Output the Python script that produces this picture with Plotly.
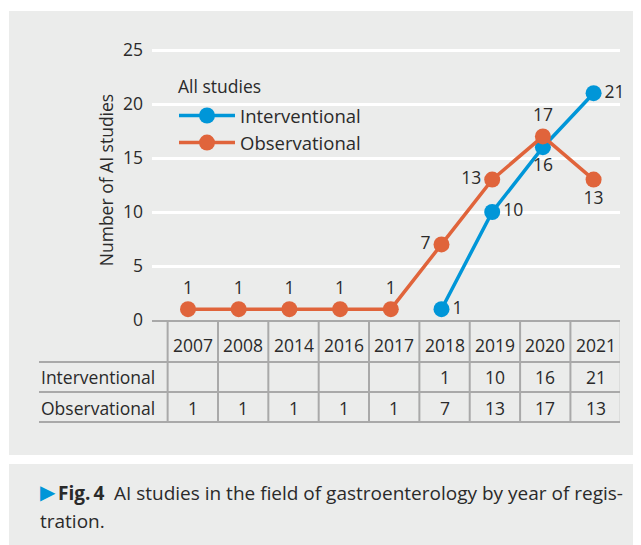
import plotly.graph_objects as go

years = ["2007", "2008", "2014", "2016", "2017", "2018", "2019", "2020", "2021"]
interventional = [None, None, None, None, None, 1, 10, 16, 21]
observational = [1, 1, 1, 1, 1, 7, 13, 17, 13]
y_ticks = [0, 5, 10, 15, 20, 25]
row_labels = ["Interventional", "Observational"]

BLUE = "#0096d8"
ORANGE = "#e0643b"
GRAY_BG = "#ebeceb"
TXT = "#2a2a2a"
LINE = "#a9a9a9"
FONT = "Open Sans, Liberation Sans, sans-serif"
FS = 17.5

OFF = 8                      # page body margin in the browser
W, H = 641 - OFF, 545 - OFF
# screen-pixel layout of the plot area
SL, SR, ST, SB = 152, 620, 40, 320
L, R, T, B = SL - OFF, SR - OFF, ST - OFF, SB - OFF


def px_x(px):
    return (px - SL) / (SR - SL)


def px_y(py):
    return (SB - py) / (SB - ST)


xi = list(range(len(years)))

obs_pos = ["top center"] * 5 + ["middle left", "middle left", "top center", "bottom center"]
int_pos = ["middle right"] * 7 + ["bottom center", "middle right"]

fig = go.Figure()
fig.add_trace(go.Scatter(
    x=xi, y=interventional, name="Interventional", mode="lines+markers+text",
    line=dict(color=BLUE, width=3.5), marker=dict(color=BLUE, size=16),
    text=[("" if v is None else str(v)) for v in interventional],
    textposition=int_pos, textfont=dict(size=FS, color=TXT, family=FONT),
    cliponaxis=False, hoverinfo="skip",
))
fig.add_trace(go.Scatter(
    x=xi, y=observational, name="Observational", mode="lines+markers+text",
    line=dict(color=ORANGE, width=3.5), marker=dict(color=ORANGE, size=16),
    text=[str(v) for v in observational],
    textposition=obs_pos, textfont=dict(size=FS, color=TXT, family=FONT),
    cliponaxis=False, hoverinfo="skip",
))

shapes = []
# background panels
shapes.append(dict(type="rect", xref="paper", yref="paper", layer="below",
                   x0=px_x(9), x1=px_x(660), y0=px_y(455), y1=px_y(11),
                   fillcolor=GRAY_BG, line=dict(width=0)))
shapes.append(dict(type="rect", xref="paper", yref="paper", layer="below",
                   x0=px_x(9), x1=px_x(660), y0=px_y(560), y1=px_y(464),
                   fillcolor=GRAY_BG, line=dict(width=0)))

# table lines
row_bottoms = [362, 392, 422]
for yb in row_bottoms:
    shapes.append(dict(type="line", xref="paper", yref="paper",
                       x0=px_x(39), x1=1, y0=px_y(yb), y1=px_y(yb),
                       line=dict(color=LINE, width=2)))
for k in range(len(years) + 1):
    shapes.append(dict(type="line", xref="x2", yref="paper",
                       x0=k - 0.5, x1=k - 0.5, y0=px_y(SB), y1=px_y(422),
                       line=dict(color=LINE, width=2)))

annotations = []
row_centers = [377, 408]
for i, yr in enumerate(years):
    annotations.append(dict(x=i, y=px_y(345), xref="x2", yref="paper", text=yr,
                            showarrow=False, xanchor="center", yanchor="middle",
                            font=dict(size=FS, color=TXT, family=FONT)))
    for r, series in enumerate([interventional, observational]):
        v = series[i]
        if v is not None:
            annotations.append(dict(x=i, y=px_y(row_centers[r]), xref="x2", yref="paper",
                                    text=str(v), showarrow=False,
                                    xanchor="center", yanchor="middle",
                                    font=dict(size=FS, color=TXT, family=FONT)))
for r, lab in enumerate(row_labels):
    annotations.append(dict(x=px_x(39), y=px_y(row_centers[r]), xref="paper", yref="paper",
                            text=lab, showarrow=False, xanchor="left", yanchor="middle",
                            font=dict(size=FS, color=TXT, family=FONT)))

# legend title
annotations.append(dict(x=px_x(176), y=px_y(86), xref="paper", yref="paper",
                        text="All studies", showarrow=False, xanchor="left", yanchor="middle",
                        font=dict(size=FS, color=TXT, family=FONT)))

# caption
CFS = 19
annotations.append(dict(
    x=px_x(38), y=px_y(492), xref="paper", yref="paper", xanchor="left", yanchor="middle",
    showarrow=False, align="left", text="\u25B6",
    font=dict(size=20, color=BLUE, family="DejaVu Sans")))
annotations.append(dict(
    x=px_x(56), y=px_y(493), xref="paper", yref="paper", xanchor="left", yanchor="middle",
    showarrow=False, align="left",
    text="<b>Fig.\u20094</b>\u2002AI studies in the field of gastroenterology by year of regis-",
    font=dict(size=CFS, color=TXT, family=FONT)))
annotations.append(dict(
    x=px_x(38), y=px_y(521), xref="paper", yref="paper", xanchor="left", yanchor="middle",
    showarrow=False, align="left", text="tration.",
    font=dict(size=CFS, color=TXT, family=FONT)))

x_per = 50.7
x0_px = 188
t_per = 50.35
t0_px = 192.8

fig.update_layout(
    width=W, height=H,
    margin=dict(l=L, r=W - R, t=T, b=H - B, pad=0),
    paper_bgcolor="white", plot_bgcolor=GRAY_BG,
    font=dict(family=FONT, size=FS, color=TXT),
    xaxis=dict(range=[(SL - x0_px) / x_per, (SR - x0_px) / x_per],
               showticklabels=False, showgrid=False, zeroline=False,
               showline=True, linecolor=LINE, linewidth=2, ticks=""),
    xaxis2=dict(range=[(SL - t0_px) / t_per, (SR - t0_px) / t_per], overlaying="x",
                visible=False),
    yaxis=dict(range=[0, (SB - ST) / 10.8], tickvals=y_ticks, showgrid=True,
               gridcolor="white", gridwidth=2.5, zeroline=False, showline=False,
               ticks="", ticklabelstandoff=8,
               tickfont=dict(size=FS, color=TXT, family=FONT),
               title=dict(text="Number of AI studies", standoff=4,
                          font=dict(size=FS, color=TXT, family=FONT))),
    legend=dict(x=px_x(174), y=px_y(97), xanchor="left", yanchor="top",
                bgcolor="rgba(0,0,0,0)", borderwidth=0,
                font=dict(size=18.5, color=TXT, family=FONT),
                itemwidth=56, tracegroupgap=0),
    shapes=shapes, annotations=annotations,
    showlegend=True, hovermode=False,
)

fig.write_html("out.html")
